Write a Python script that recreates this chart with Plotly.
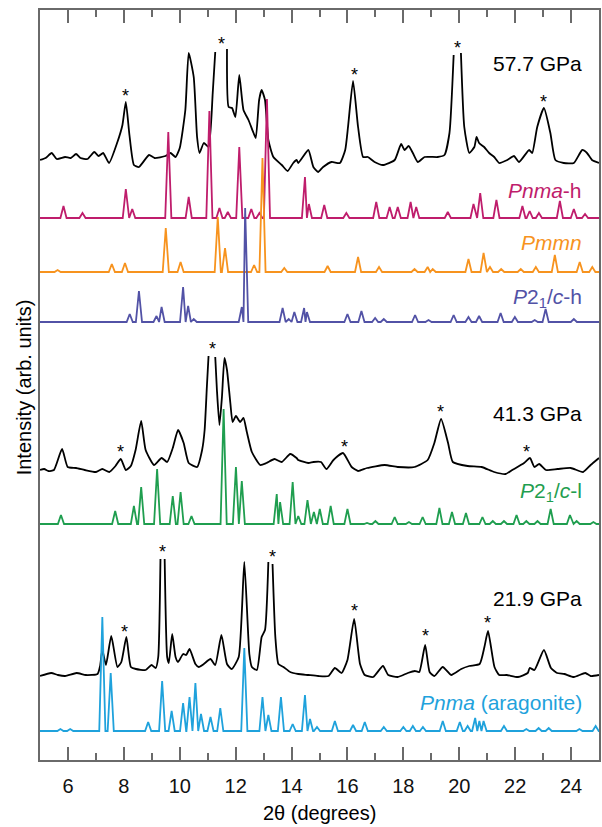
import plotly.graph_objects as go

# ---------------- experimental patterns (2theta, intensity above own baseline) ----------------
x_577 = [5.0,5.2,5.42,5.6,5.9,6.1,6.29,6.45,6.7,6.94,
         7.1,7.26,7.47,7.77,7.95,8.07,8.2,8.36,8.54,8.9,
         9.1,9.49,9.67,9.85,10.0,10.2,10.32,10.5,10.62,10.71,
         10.86,11.03,11.18,11.27,None,11.69,11.75,11.87,11.99,12.13,
         12.28,12.46,12.64,12.72,12.84,12.93,13.05,13.17,13.35,13.65,
         13.86,14.06,14.18,14.24,14.6,14.78,14.95,15.13,15.43,15.73,
         15.92,16.02,16.2,16.38,16.56,16.73,16.97,17.27,17.69,17.92,
         18.04,18.19,18.34,18.52,18.76,19.23,19.47,19.65,19.8,None,
         20.06,20.18,20.36,20.54,20.62,20.71,20.89,21.07,21.25,21.43,
         21.72,21.96,22.14,22.5,22.61,22.79,23.03,23.26,23.44,23.74,
         24.1,24.4,24.57,24.75,25.0]
i_577 = [1,3,8,2,4,3,7,3,2,9,
         5,8,-2,19,36,59,26,-4,-6,6,
         3,5,8,4,13,51,108,84,24,8,
         18,14,68,109,None,112,54,53,44,86,
         51,41,28,23,61,71,61,21,4,-4,
         -10,-2,1,-2,11,-6,-11,-6,-1,-2,
         11,34,80,34,4,4,-1,-4,1,17,
         11,15,8,-1,4,4,6,28,106,None,
         108,34,8,14,24,18,14,8,4,-2,
         1,5,-1,11,8,34,53,28,1,-2,
         -2,11,8,1,-2]

x_413 = [5.0,5.15,5.3,5.5,5.79,5.99,6.29,6.6,7.0,7.23,
         7.48,7.7,7.89,8.07,8.25,8.42,8.62,8.78,9.08,9.35,
         9.55,9.75,9.94,10.14,10.32,10.62,10.8,10.89,10.97,11.03,
         None,11.27,11.33,11.42,11.51,11.6,11.69,11.81,11.89,12.01,12.16,
         12.28,12.4,12.58,12.88,13.1,13.39,13.65,13.95,14.18,14.24,
         14.6,14.78,15.05,15.25,15.5,15.84,16.15,16.38,16.7,17.33,
         17.8,18.4,18.87,19.11,19.35,19.6,19.77,20.3,20.8,21.25,
         21.66,21.9,22.32,22.53,22.69,22.86,23.1,23.52,23.99,24.43,
         24.7,25.0]
i_413 = [0,1,-1,0,21,3,2,0,-2,1,
         -2,4,11,0,4,20,49,20,5,12,
         8,22,40,27,7,3,20,40,83,114,
         None,113,80,45,73,112,100,67,48,54,48,
         52,38,18,5,7,11,8,16,12,10,
         7,8,8,1,10,17,3,-1,2,5,
         3,3,10,27,51,27,8,4,3,-2,
         -4,0,7,12,3,6,0,1,2,-2,
         5,12]

x_219 = [5.0,5.4,5.64,5.9,6.31,6.64,7.06,7.15,7.23,7.36,
         7.55,7.77,7.91,8.09,8.25,8.43,8.78,8.99,9.14,9.23,
         9.31,None,9.46,9.55,9.61,9.73,9.85,9.94,10.12,10.23,
         10.35,10.56,10.68,10.86,11.1,11.27,11.49,11.69,11.86,12.11,
         12.31,12.49,12.58,12.76,12.93,13.05,13.17,None,13.32,13.42,
         13.53,13.71,13.95,14.24,14.6,14.95,15.32,15.55,15.79,16.0,
         16.24,16.45,16.62,16.92,17.27,17.46,17.8,18.16,18.41,18.57,
         18.78,18.94,19.11,19.41,19.71,20.07,20.36,20.73,20.9,21.03,
         21.26,21.43,21.7,22.1,22.45,22.52,22.69,23.03,23.28,23.5,
         23.76,24.1,24.51,24.7,25.0]
i_219 = [0,3,1,0,3,1,2,10,26,11,
         40,9,14,39,9,7,6,11,8,19,
         117,None,117,19,13,42,19,14,22,21,
         27,12,9,12,17,11,41,12,7,19,
         114,22,9,6,39,46,114,None,112,39,
         12,9,4,2,1,0,0,8,3,16,
         57,12,1,-1,10,1,-1,3,5,4,
         31,4,0,9,1,7,10,12,29,45,
         9,1,1,-1,3,8,6,26,8,3,
         2,-1,3,0,1]

# ---------------- simulated patterns: peak positions (2theta) and heights ----------------
pk_pnma_h = [5.84,6.52,8.07,8.30,9.59,10.32,11.06,11.42,11.72,12.13,
             12.56,12.85,13.12,14.48,14.62,15.17,15.96,17.03,17.51,17.80,
             18.26,18.46,19.59,20.51,20.75,21.33,22.26,22.52,22.85,23.60,
             24.10,24.50]
h_pnma_h = [12,5,29,9,86,21,107,10,6,71,
            9,5,119,41,14,13,5,16,11,11,
            16,11,6,14,25,18,12,7,5,17,
            9,4]

pk_pmmn = [5.63,7.57,8.04,9.50,10.03,11.36,11.62,12.66,12.96,13.74,
           15.29,16.38,17.13,18.40,18.87,19.05,20.33,20.87,21.10,21.50,
           22.20,22.74,23.42,24.31,24.76]
h_pmmn = [2,8,9,44,10,55,24,7,114,4,
          6,15,5,3,5,3,13,19,5,3,
          3,5,17,10,5]

pk_p21c_h = [8.21,8.54,9.17,9.35,10.12,10.30,10.50,12.22,12.34,13.68,
             13.90,14.10,14.45,14.55,16.00,16.50,16.99,17.30,18.42,18.90,
             19.80,20.33,20.71,21.48,21.99,22.70,23.09,24.10]
h_p21c_h = [8,31,6,15,35,16,3,15,114,14,
            3,10,14,10,8,11,4,3,7,2,
            7,5,6,9,5,2,13,3]

pk_p21c_l = [5.75,7.69,8.36,8.62,9.19,9.75,10.03,10.42,11.57,12.01,
             12.22,13.47,13.59,14.04,14.24,14.57,14.80,15.01,15.40,16.00,
             16.70,17.00,17.69,18.20,18.69,19.29,19.74,20.24,20.83,21.20,
             21.60,22.05,22.40,22.80,23.27,23.96,24.20,24.80]
h_p21c_l = [9,13,18,37,55,28,32,8,115,57,
            43,30,22,42,8,24,12,15,18,15,
            1,3,7,2,7,16,12,11,7,3,
            3,9,3,3,15,9,3,2]

pk_arag = [5.73,6.08,7.23,7.53,8.87,9.37,9.71,10.12,10.35,10.56,
           10.76,11.10,11.45,12.31,12.96,13.17,13.62,14.04,14.48,14.66,
           14.91,15.55,16.20,16.62,17.30,18.00,18.34,18.70,19.41,20.02,
           20.30,20.57,20.72,20.87,21.60,22.40,22.84,23.20,24.30,24.88]
h_arag = [2,2,114,58,9,50,20,28,34,48,
          17,14,23,83,34,16,34,7,36,12,
          4,10,6,9,4,4,5,4,10,9,
          5,13,10,10,5,2,3,3,2,5]

# vertical stacking offsets of each pattern
off_577, off_pnma_h, off_pmmn, off_p21c_h = 599, 542, 488, 438
off_413, off_p21c_l, off_219, off_arag = 290, 236, 84, 29

# asterisk markers (2theta, stacked intensity)
ast_x = [8.07, 11.48, 16.24, 19.93, 23.02, 7.89, 11.16, 15.89, 19.33, 22.42,
         8.04, 9.37, 13.32, 16.24, 18.79, 21.0]
ast_y = [669, 721, 690, 717, 663, 313, 416, 318, 353, 313,
         133, 213, 208, 154, 129, 142]

# ---------------- helpers ----------------
X0, X1 = 5.0, 25.0
HW = 0.11  # drawn half width of simulated reflections


def shifted(vals, off):
    return [None if v is None else v + off for v in vals]


def stick_profile(pos, h):
    xs, ys = [X0], [0]
    n = len(pos)
    for i, (p, v) in enumerate(zip(pos, h)):
        left, right = p - HW, p + HW
        if i > 0:
            left = max(left, (pos[i - 1] + p) / 2)
        if i < n - 1:
            right = min(right, (pos[i + 1] + p) / 2)
        if left > xs[-1]:
            xs.append(left); ys.append(0)
        xs.append(p); ys.append(v)
        xs.append(right); ys.append(0)
    xs.append(X1); ys.append(0)
    return xs, ys


for a, b in [(x_577, i_577), (x_413, i_413), (x_219, i_219), (pk_pnma_h, h_pnma_h),
             (pk_pmmn, h_pmmn), (pk_p21c_h, h_p21c_h), (pk_p21c_l, h_p21c_l),
             (pk_arag, h_arag), (ast_x, ast_y)]:
    assert len(a) == len(b), (len(a), len(b))

C_BLACK = "#000000"
C_PNMAH = "#BF1D6C"
C_PMMN = "#F7931E"
C_P21H = "#5252A6"
C_P21L = "#1F9E4F"
C_ARAG = "#1FA2DC"
FONT = "Liberation Sans, Arial, sans-serif"
LW = 1.8

fig = go.Figure()

for xs, vals, off in [(x_577, i_577, off_577), (x_413, i_413, off_413), (x_219, i_219, off_219)]:
    fig.add_trace(go.Scatter(x=xs, y=shifted(vals, off), mode="lines",
                             line=dict(color=C_BLACK, width=LW, shape="spline", smoothing=0.5),
                             connectgaps=False, showlegend=False, hoverinfo="skip"))

for pos, h, off, col in [(pk_pnma_h, h_pnma_h, off_pnma_h, C_PNMAH),
                         (pk_pmmn, h_pmmn, off_pmmn, C_PMMN),
                         (pk_p21c_h, h_p21c_h, off_p21c_h, C_P21H),
                         (pk_p21c_l, h_p21c_l, off_p21c_l, C_P21L),
                         (pk_arag, h_arag, off_arag, C_ARAG)]:
    xs, ys = stick_profile(pos, h)
    fig.add_trace(go.Scatter(x=xs, y=shifted(ys, off), mode="lines",
                             line=dict(color=col, width=LW),
                             showlegend=False, hoverinfo="skip"))

annotations = []
for ax_, ay_ in zip(ast_x, ast_y):
    annotations.append(dict(x=ax_, y=ay_, text="*", showarrow=False, yshift=-5,
                            font=dict(size=18, color="#000", family=FONT)))

LABEL_X = 24.47
labels = [
    ("57.7 GPa", 697, C_BLACK),
    ("<i>Pnma</i>-h", 570, C_PNMAH),
    ("<i>Pmmn</i>", 518, C_PMMN),
    ("<i>P</i>2<sub>1</sub>/<i>c</i>-h", 462, C_P21H),
    ("41.3 GPa", 347, C_BLACK),
    ("<i>P</i>2<sub>1</sub>/<i>c</i>-l", 268, C_P21L),
    ("21.9 GPa", 162, C_BLACK),
    ("<i>Pnma</i> (aragonite)", 58, C_ARAG),
]
for txt, yy, col in labels:
    annotations.append(dict(x=LABEL_X, y=yy, text=txt, showarrow=False,
                            xanchor="right", yanchor="middle",
                            font=dict(size=21, color=col, family=FONT)))

annotations.append(dict(xref="paper", yref="paper", x=0.5, y=-0.071, text="2θ (degrees)",
                        showarrow=False, xanchor="center", yanchor="middle",
                        font=dict(size=20, color="#000", family=FONT)))
annotations.append(dict(xref="paper", yref="paper", x=-0.0285, y=0.497,
                        text="Intensity (arb. units)", textangle=-90,
                        showarrow=False, xanchor="center", yanchor="middle",
                        font=dict(size=20, color="#000", family=FONT)))

AXC = "#6a6a6a"
fig.update_layout(
    width=602, height=827,
    margin=dict(l=40, r=1, t=10, b=67),
    paper_bgcolor="white", plot_bgcolor="white",
    annotations=annotations,
    font=dict(family=FONT, size=20, color="#000"),
    xaxis=dict(range=[X0, X1], showline=True, mirror="ticks", linecolor=AXC, linewidth=1.5,
               ticks="inside", ticklen=13, tickwidth=1.5, tickcolor=AXC,
               tick0=0, dtick=2, showgrid=False, zeroline=False, ticklabelstandoff=7,
               tickfont=dict(size=20, color="#111", family=FONT),
               minor=dict(ticks="inside", tick0=0, dtick=1, ticklen=7, tickwidth=1.5,
                          tickcolor=AXC, showgrid=False)),
    yaxis=dict(range=[0, 750], showline=True, mirror=True, linecolor=AXC, linewidth=1.5,
               showticklabels=False, ticks="", showgrid=False, zeroline=False),
)

fig.write_html("out.html", config={"displayModeBar": False},
               post_script="document.body.style.margin='0px';document.body.style.overflow='hidden';")
